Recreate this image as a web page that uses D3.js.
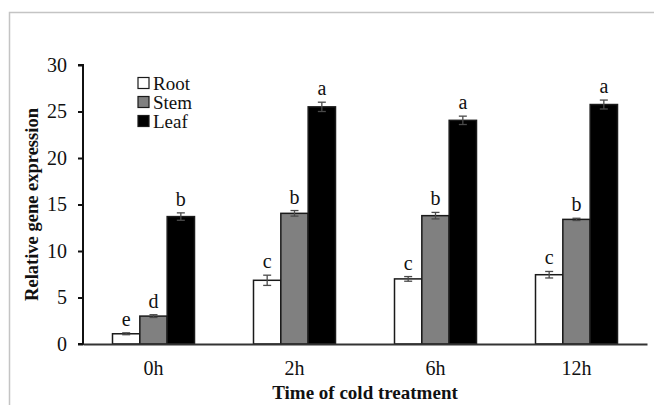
<!DOCTYPE html>
<html>
<head>
<meta charset="utf-8">
<script src="https://cdn.jsdelivr.net/npm/d3@7"></script>
<style>
  body { margin: 0; background: #fff; }
  svg text { font-family: "Liberation Serif", "Times New Roman", serif; }
</style>
</head>
<body>
<div id="chart-area"></div>
<script>
const times = ["0h", "2h", "6h", "12h"];
const series = ["Root", "Stem", "Leaf"];
const rootVals = [1.1, 6.85, 7.0, 7.45];
const stemVals = [3.0, 14.05, 13.8, 13.4];
const leafVals = [13.7, 25.5, 24.05, 25.75];
const rootErr = [0.1, 0.55, 0.25, 0.35];
const stemErr = [0.15, 0.3, 0.35, 0.12];
const leafErr = [0.4, 0.5, 0.45, 0.48];
const rootSig = ["e", "c", "c", "c"];
const stemSig = ["d", "b", "b", "b"];
const leafSig = ["b", "a", "a", "a"];
const yTicks = [0, 5, 10, 15, 20, 25, 30];

const fills = { Root: "#ffffff", Stem: "#808080", Leaf: "#000000" };

const W = 654, H = 405;
const m = { t: 65, l: 83, r: 7, b: 61 };

const svg = d3.select("#chart-area")
  .append("svg")
  .attr("width", W)
  .attr("height", H);

// light frame around the figure
svg.append("path")
  .attr("d", "M9.5," + H + "V12.5H" + W)
  .attr("fill", "none")
  .attr("stroke", "#c4c4c4")
  .attr("stroke-width", 1.5);

const x0 = d3.scaleBand()
  .domain(times)
  .range([m.l, W - m.r]);

const groupW = 82;
const x1 = d3.scaleBand()
  .domain(series)
  .range([(x0.bandwidth() - groupW) / 2, (x0.bandwidth() + groupW) / 2]);

const y = d3.scaleLinear()
  .domain([0, 30])
  .range([H - m.b, m.t]);

// build rows from the arrays
const rows = [];
times.forEach((t, i) => {
  rows.push({ t: t, s: "Root", v: rootVals[i], e: rootErr[i], sig: rootSig[i] });
  rows.push({ t: t, s: "Stem", v: stemVals[i], e: stemErr[i], sig: stemSig[i] });
  rows.push({ t: t, s: "Leaf", v: leafVals[i], e: leafErr[i], sig: leafSig[i] });
});

// bars
svg.selectAll("rect.bar")
  .data(rows)
  .enter().append("rect")
  .attr("class", "bar")
  .attr("x", d => x0(d.t) + x1(d.s))
  .attr("width", x1.bandwidth())
  .attr("y", d => y(d.v))
  .attr("height", d => y(0) - y(d.v))
  .attr("fill", d => fills[d.s])
  .attr("stroke", "#1a1a1a")
  .attr("stroke-width", 1.5);

// error bars
const eb = svg.selectAll("g.err")
  .data(rows)
  .enter().append("g")
  .attr("class", "err")
  .attr("transform", d => "translate(" + (x0(d.t) + x1(d.s) + x1.bandwidth() / 2) + ",0)")
  .attr("stroke", "#4a4a4a")
  .attr("stroke-width", 1.3);

eb.append("line")
  .attr("y1", d => y(d.v + d.e))
  .attr("y2", d => y(d.v - d.e));
eb.append("line")
  .attr("x1", -4).attr("x2", 4)
  .attr("y1", d => y(d.v + d.e))
  .attr("y2", d => y(d.v + d.e));
eb.append("line")
  .attr("x1", -4).attr("x2", 4)
  .attr("y1", d => y(d.v - d.e))
  .attr("y2", d => y(d.v - d.e));

// significance letters
svg.selectAll("text.sig")
  .data(rows)
  .enter().append("text")
  .attr("class", "sig")
  .attr("x", d => x0(d.t) + x1(d.s) + x1.bandwidth() / 2)
  .attr("y", d => y(d.v + d.e) - 7)
  .attr("text-anchor", "middle")
  .attr("font-size", "20px")
  .attr("fill", "#111")
  .text(d => d.sig);

// y axis
const yAxis = svg.append("g")
  .attr("transform", "translate(" + m.l + ",0)")
  .call(d3.axisLeft(y).tickValues(yTicks).tickSize(5).tickPadding(11));
yAxis.select(".domain").attr("stroke", "#111").attr("stroke-width", 2)
  .attr("d", "M-5," + y(30) + "H0V" + y(0) + "H-5");
yAxis.selectAll(".tick line").attr("stroke", "#111").attr("stroke-width", 2);
yAxis.selectAll(".tick text")
  .attr("font-size", "20px")
  .attr("font-family", "Liberation Serif, serif")
  .attr("fill", "#111");

// x axis
const xAxis = svg.append("g")
  .attr("transform", "translate(0," + y(0) + ")")
  .call(d3.axisBottom(x0).tickSize(0).tickPadding(17));
xAxis.select(".domain").attr("stroke", "#333").attr("stroke-width", 2);
xAxis.selectAll(".tick text")
  .attr("font-size", "20px")
  .attr("font-family", "Liberation Serif, serif")
  .attr("fill", "#111");

// axis titles
svg.append("text")
  .attr("x", 365)
  .attr("y", 399)
  .attr("text-anchor", "middle")
  .attr("font-size", "19px")
  .attr("font-weight", "bold")
  .attr("fill", "#111")
  .text("Time of cold treatment");

svg.append("text")
  .attr("transform", "translate(38," + (y(15)) + ") rotate(-90)")
  .attr("text-anchor", "middle")
  .attr("font-size", "18.5px")
  .attr("font-weight", "bold")
  .attr("fill", "#111")
  .text("Relative gene expression");

// legend
const lg = svg.append("g")
  .attr("transform", "translate(138,83)");
const li = lg.selectAll("g")
  .data(series)
  .enter().append("g")
  .attr("transform", (d, i) => "translate(0," + i * 19 + ")");
li.append("rect")
  .attr("x", 0).attr("y", -5.5)
  .attr("width", 11).attr("height", 11)
  .attr("fill", d => fills[d])
  .attr("stroke", "#1a1a1a")
  .attr("stroke-width", 1.2);
li.append("text")
  .attr("x", 15)
  .attr("y", 6.5)
  .attr("font-size", "19px")
  .attr("dominant-baseline", "auto")
  .attr("style", "line-height:1")
  .attr("fill", "#111")
  .text(d => d);
</script>
</body>
</html>
